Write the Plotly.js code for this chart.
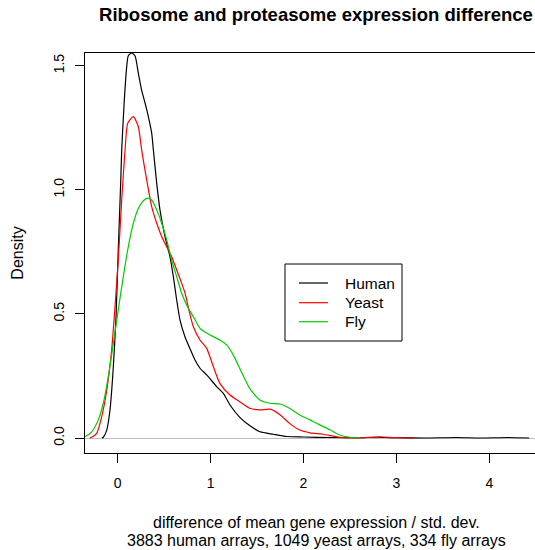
<!DOCTYPE html>
<html>
<head>
<meta charset="utf-8">
<script src="https://cdn.plot.ly/plotly-3.0.1.min.js"></script>
<style>
html, body { margin: 0; padding: 0; overflow: hidden; background: #fff; }
#chart { width: 600px; height: 550px; }
</style>
</head>
<body>
<div id="chart"></div>
<script>
// Series names and colours
const seriesNames = ["Human", "Yeast", "Fly"];
const seriesColors = ["#000000", "#FF0000", "#00CD00"];

// Human density
const humanX = [-0.17, -0.155, -0.118, -0.083, -0.047, -0.018, 0.006, 0.032, 0.043, 0.071, 0.097, 0.114, 0.15, 0.186, 0.222, 0.258, 0.294, 0.33, 0.366, 0.384, 0.42, 0.455, 0.509, 0.563, 0.599, 0.635, 0.671, 0.724, 0.778, 0.832, 0.886, 0.958, 1.066, 1.137, 1.209, 1.317, 1.424, 1.532, 1.675, 1.82, 2.0, 2.3, 2.6, 2.8, 3.0, 3.3, 3.65, 3.9, 4.2, 4.43];
const humanY = [0, 0.003, 0.032, 0.113, 0.287, 0.489, 0.757, 1.026, 1.16, 1.36, 1.496, 1.54, 1.551, 1.54, 1.47, 1.40, 1.35, 1.295, 1.228, 1.16, 1.026, 0.919, 0.811, 0.73, 0.65, 0.556, 0.475, 0.408, 0.36, 0.314, 0.281, 0.254, 0.207, 0.18, 0.133, 0.082, 0.049, 0.025, 0.015, 0.006, 0.004, 0.002, 0.001, 0.003, 0.001, 0.0, 0.002, 0.0, 0.002, 0.0];

// Yeast density
const yeastX = [-0.30, -0.28, -0.226, -0.172, -0.118, -0.065, -0.029, 0.006, 0.043, 0.079, 0.108, 0.168, 0.222, 0.258, 0.312, 0.366, 0.42, 0.474, 0.527, 0.581, 0.635, 0.689, 0.724, 0.77, 0.814, 0.886, 0.958, 1.03, 1.10, 1.209, 1.317, 1.42, 1.53, 1.64, 1.75, 1.85, 1.96, 2.07, 2.21, 2.39, 2.6, 2.82, 3.0, 3.18];
const yeastY = [0, 0.003, 0.019, 0.086, 0.193, 0.355, 0.529, 0.717, 0.959, 1.16, 1.268, 1.295, 1.254, 1.16, 1.04, 0.932, 0.865, 0.811, 0.771, 0.73, 0.677, 0.623, 0.585, 0.51, 0.448, 0.395, 0.361, 0.287, 0.22, 0.173, 0.145, 0.12, 0.113, 0.116, 0.093, 0.059, 0.032, 0.021, 0.015, 0.003, 0.001, 0.005, 0.001, 0];

// Fly density
const flyX = [-0.40, -0.352, -0.28, -0.209, -0.155, -0.101, -0.047, 0.006, 0.06, 0.114, 0.168, 0.222, 0.276, 0.323, 0.366, 0.42, 0.474, 0.527, 0.581, 0.635, 0.689, 0.743, 0.814, 0.886, 0.994, 1.10, 1.173, 1.245, 1.317, 1.42, 1.53, 1.64, 1.75, 1.85, 1.96, 2.07, 2.18, 2.29, 2.39, 2.5, 2.61];
const flyY = [0.001, 0.005, 0.025, 0.073, 0.14, 0.247, 0.381, 0.516, 0.65, 0.771, 0.865, 0.925, 0.956, 0.966, 0.959, 0.919, 0.865, 0.798, 0.717, 0.65, 0.583, 0.535, 0.489, 0.442, 0.415, 0.395, 0.375, 0.334, 0.278, 0.2, 0.153, 0.14, 0.137, 0.12, 0.093, 0.073, 0.052, 0.032, 0.012, 0.003, 0];

// Axis ticks
const xTicks = [0, 1, 2, 3, 4];
const xTickText = ["0", "1", "2", "3", "4"];
const yTicks = [0, 0.5, 1.0, 1.5];
const yTickText = ["0.0", "0.5", "1.0", "1.5"];

const titleText = "Ribosome and proteasome expression difference";
const xTitleLines = ["difference of mean gene expression / std. dev.", "3883 human arrays, 1049 yeast arrays, 334 fly arrays"];
const yTitleText = "Density";

const FONT = "'Liberation Sans', Arial, Helvetica, sans-serif";

// plot area geometry (pixels) used to place the hand-drawn legend box
const L = 85, T = 53, W = 462, H = 400;
const px = v => (v - L) / W;
const py = v => (T + H - v) / H;

const xs = [humanX, yeastX, flyX];
const ys = [humanY, yeastY, flyY];
const traces = seriesNames.map((n, i) => ({
  type: "scatter",
  mode: "lines",
  name: n,
  x: xs[i],
  y: ys[i],
  line: { color: seriesColors[i], width: 1.2, shape: "spline", smoothing: 0.6 },
  hoverinfo: "skip",
  showlegend: false
}));

// Legend (R style): box, line samples and labels
const legRowY = [283, 302.7, 321.7];
const shapes = [{
  type: "rect", xref: "paper", yref: "paper",
  x0: px(285), x1: px(402), y0: py(341), y1: py(264),
  line: { color: "#000", width: 1 }, fillcolor: "#fff", layer: "above"
}];
const annotations = [];
seriesNames.forEach((n, i) => {
  shapes.push({
    type: "line", xref: "paper", yref: "paper",
    x0: px(299), x1: px(328), y0: py(legRowY[i]), y1: py(legRowY[i]),
    line: { color: seriesColors[i], width: 1.2 }, layer: "above"
  });
  annotations.push({
    xref: "paper", yref: "paper", x: px(343), y: py(legRowY[i]),
    xanchor: "left", yanchor: "middle", showarrow: false,
    text: n, font: { family: FONT, size: 15.5, color: "#000" }
  });
});
// x-axis title (two lines, R spacing)
annotations.push({
  xref: "paper", yref: "paper", x: 0.5, y: py(522), xanchor: "center", yanchor: "middle",
  showarrow: false, text: xTitleLines[0], font: { family: FONT, size: 16, color: "#000" }
});
annotations.push({
  xref: "paper", yref: "paper", x: 0.5, y: py(540), xanchor: "center", yanchor: "middle",
  showarrow: false, text: xTitleLines[1], font: { family: FONT, size: 16, color: "#000" }
});

const layout = {
  width: 600,
  height: 550,
  margin: { l: L, r: 600 - L - W, t: T, b: 550 - T - H },
  paper_bgcolor: "#ffffff",
  plot_bgcolor: "#ffffff",
  font: { family: FONT, size: 14, color: "#000" },
  title: {
    text: "<b>" + titleText + "</b>",
    font: { family: FONT, size: 18.5, color: "#000" },
    x: 0.5, xref: "paper", xanchor: "center",
    y: 1 - 15 / 550, yref: "container", yanchor: "middle"
  },
  showlegend: false,
  shapes: shapes,
  annotations: annotations,
  xaxis: {
    range: [-0.352, 4.621],
    tickvals: xTicks, ticktext: xTickText,
    ticks: "outside", ticklen: 9, tickcolor: "#000", tickwidth: 1,
    ticklabelstandoff: 8,
    showline: true, mirror: true, linecolor: "#000", linewidth: 1,
    showgrid: false, zeroline: false,
    tickfont: { family: FONT, size: 14, color: "#000" }
  },
  yaxis: {
    range: [-0.0604, 1.551],
    tickvals: yTicks, ticktext: yTickText, tickangle: -90,
    ticks: "outside", ticklen: 9, tickcolor: "#000", tickwidth: 1,
    ticklabelstandoff: 5,
    showline: true, mirror: true, linecolor: "#000", linewidth: 1,
    showgrid: false,
    zeroline: true, zerolinecolor: "#BEBEBE", zerolinewidth: 1,
    tickfont: { family: FONT, size: 14, color: "#000" },
    title: { text: yTitleText, font: { family: FONT, size: 16, color: "#000" }, standoff: 23 }
  }
};

Plotly.newPlot("chart", traces, layout, { staticPlot: true, displayModeBar: false });
</script>
</body>
</html>
